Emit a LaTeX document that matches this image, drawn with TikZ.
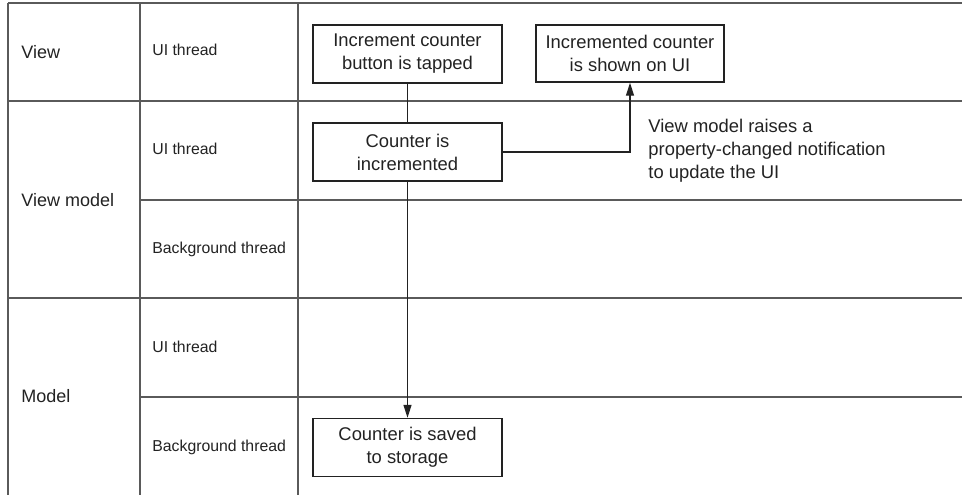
\documentclass[tikz,border=0pt]{standalone}
\usepackage{fontspec}
\setmainfont{Liberation Sans}
\usetikzlibrary{arrows.meta}
\definecolor{gridc}{HTML}{5A5A5A}
\definecolor{txt}{HTML}{222222}
\tikzset{
  gridline/.style={draw=gridc, line width=0.9pt},
  stepbox/.style={draw=txt, line width=0.7pt, inner sep=0pt, align=center, text=txt,
    font=\fontsize{9.2pt}{11.5pt}\selectfont, minimum width=94.5pt, minimum height=29pt},
  lanelabel/.style={anchor=base west, inner sep=0pt, text=txt, font=\fontsize{7.9pt}{9.5pt}\selectfont},
  layerlabel/.style={anchor=base west, inner sep=0pt, text=txt, font=\fontsize{9pt}{11pt}\selectfont},
  note/.style={anchor=north west, inner sep=0pt, align=left, text=txt, font=\fontsize{9.2pt}{11.5pt}\selectfont},
  arr/.style={draw=txt, line width=0.6pt, -{Triangle[length=6.5pt,width=4pt]}},
  conn/.style={draw=txt, line width=0.6pt}
}
\begin{document}
\begin{tikzpicture}[x=0.5pt,y=-0.5pt]
\useasboundingbox (0,0) rectangle (962,495);
% grid
\draw[gridline] (8,3) -- (962,3);
\draw[gridline] (8,101) -- (962,101);
\draw[gridline] (140,200) -- (962,200);
\draw[gridline] (8,298) -- (962,298);
\draw[gridline] (140,397) -- (962,397);
\draw[gridline] (8,3) -- (8,495);
\draw[gridline] (140,3) -- (140,495);
\draw[gridline] (298,3) -- (298,495);
% layer labels
\node[layerlabel] (lview) at (21,58) {View};
\node[layerlabel] (lvm) at (21,206) {View model};
\node[layerlabel] (lmodel) at (21,402) {Model};
% lane labels
\node[lanelabel] (t1) at (152,55) {UI thread};
\node[lanelabel] (t2) at (152,154) {UI thread};
\node[lanelabel] (t3) at (152,253) {Background thread};
\node[lanelabel] (t4) at (152,352) {UI thread};
\node[lanelabel] (t5) at (152,451) {Background thread};
% boxes
\node[stepbox] (b1) at (407.5,54) {Increment counter\\button is tapped};
\node[stepbox, minimum width=94pt, minimum height=28.5pt] (b2) at (630,53.5) {Incremented counter\\is shown on UI};
\node[stepbox] (b3) at (407.5,152) {Counter is\\incremented};
\node[stepbox] (b4) at (407.5,447.5) {Counter is saved\\to storage};
% connectors
\draw[conn] (b1.south) -- (b3.north);
\draw[arr] (b3.south) -- (b4.north);
\draw[arr] (b3.east) -| (b2.south);
% note
\node[note] (n1) at (648,119) {View model raises a\\property-changed notification\\to update the UI};
\end{tikzpicture}
\end{document}
